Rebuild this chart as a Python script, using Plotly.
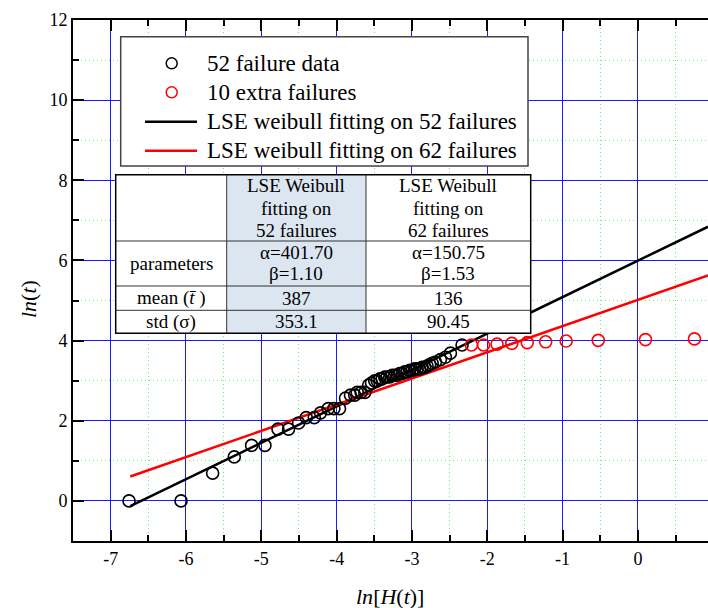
import math
import plotly.graph_objects as go

# ---- data: ln of cumulative hazard (x) vs ln of failure time (y) ----
base_lnH = [-6.756, -6.066, -5.646, -5.359, -5.129, -4.952, -4.779, -4.638, -4.505, -4.404,
            -4.297, -4.214, -4.112, -4.037, -3.962, -3.882, -3.816, -3.760, -3.727, -3.675,
            -3.626, -3.575, -3.537, -3.495, -3.462, -3.425, -3.396, -3.362, -3.330, -3.295,
            -3.263, -3.230, -3.197, -3.163, -3.130, -3.097, -3.064, -3.030, -2.998, -2.965,
            -2.931, -2.898, -2.865, -2.832, -2.799, -2.765, -2.732, -2.688, -2.622, -2.556,
            -2.489, -2.335]
base_lnt = [0.000, 0.000, 0.693, 1.099, 1.386, 1.386, 1.792, 1.792, 1.946, 2.079,
            2.079, 2.197, 2.303, 2.303, 2.303, 2.565, 2.639, 2.639, 2.708, 2.708,
            2.708, 2.890, 2.944, 2.996, 2.996, 3.045, 3.045, 3.091, 3.091, 3.091,
            3.135, 3.135, 3.135, 3.178, 3.178, 3.219, 3.219, 3.258, 3.258, 3.296,
            3.296, 3.296, 3.332, 3.332, 3.367, 3.401, 3.434, 3.466, 3.526, 3.584,
            3.689, 3.892]

extra_lnH = [-2.21, -2.05, -1.87, -1.675, -1.47, -1.225, -0.953, -0.527, 0.10, 0.75]
extra_lnt = [3.892, 3.892, 3.912, 3.932, 3.951, 3.970, 3.989, 4.007, 4.025, 4.043]

# LSE Weibull parameters (scale alpha, shape beta)
alpha_52, beta_52 = 401.70, 1.10
alpha_62, beta_62 = 150.75, 1.53
fit_lnH = [-6.74, 0.93]

x_tick_vals = [-7, -6, -5, -4, -3, -2, -1, 0]
x_tick_text = ["-7", "-6", "-5", "-4", "-3", "-2", "-1", "0"]
y_tick_vals = [0, 2, 4, 6, 8, 10, 12]
y_tick_text = ["0", "2", "4", "6", "8", "10", "12"]

legend_labels = ["52 failure data", "10 extra failures",
                 "LSE weibull fitting on 52 failures", "LSE weibull fitting on 62 failures"]

table_header = [["LSE Weibull", "fitting on", "52 failures"],
                ["LSE Weibull", "fitting on", "62 failures"]]
table_rows = ["parameters", "mean (<i>t\u0304</i> )", "std (\u03c3)"]
table_params = [["\u03b1=401.70", "\u03b2=1.10"], ["\u03b1=150.75", "\u03b2=1.53"]]
table_mean = ["387", "136"]
table_std = ["353.1", "90.45"]

# ---- geometry helpers (pixel -> paper) ----
W, H = 708, 608
ML, MR, MT, MB = 73, 0, 20, 67
PW, PH = W - ML - MR, H - MT - MB


def px(x):
    return (x - ML) / PW


def py(y):
    return (H - MB - y) / PH


FONT = "Liberation Serif, Times New Roman, serif"
BLACK = "#000000"
RED = "#ff0000"


def fit_line(alpha, beta):
    return [math.log(alpha) + v / beta for v in fit_lnH]


fig = go.Figure()
fig.add_trace(go.Scatter(x=fit_lnH, y=fit_line(alpha_52, beta_52), mode="lines",
                         line=dict(color=BLACK, width=2.5), showlegend=False))
fig.add_trace(go.Scatter(x=fit_lnH, y=fit_line(alpha_62, beta_62), mode="lines",
                         line=dict(color=RED, width=2.5), showlegend=False))
fig.add_trace(go.Scatter(x=base_lnH, y=base_lnt, mode="markers",
                         marker=dict(symbol="circle-open", size=12, color=BLACK,
                                     line=dict(width=1.6, color=BLACK)),
                         showlegend=False))
fig.add_trace(go.Scatter(x=extra_lnH, y=extra_lnt, mode="markers",
                         marker=dict(symbol="circle-open", size=12, color=RED,
                                     line=dict(width=1.6, color=RED)),
                         showlegend=False))

shapes = []
annotations = []

# ---- legend box ----
lg_x0, lg_x1, lg_y0, lg_y1 = 120.7, 528, 36.7, 166
shapes.append(dict(type="rect", xref="paper", yref="paper", layer="above",
                   x0=px(lg_x0), x1=px(lg_x1), y0=py(lg_y1), y1=py(lg_y0),
                   fillcolor="white", line=dict(color="#444444", width=1.5)))
rows_y = [63.3, 92.3, 121.7, 150.7]
for i, (lab, ry) in enumerate(zip(legend_labels, rows_y)):
    col = BLACK if i in (0, 2) else RED
    if i < 2:
        shapes.append(dict(type="circle", xref="paper", yref="paper", layer="above",
                           xsizemode="pixel", ysizemode="pixel",
                           xanchor=px(171.7), yanchor=py(ry),
                           x0=-5.5, x1=5.5, y0=-5.5, y1=5.5,
                           line=dict(color=col, width=1.5)))
    else:
        shapes.append(dict(type="line", xref="paper", yref="paper", layer="above",
                           x0=px(145), x1=px(197), y0=py(ry), y1=py(ry),
                           line=dict(color=col, width=2.5)))
    annotations.append(dict(xref="paper", yref="paper", x=px(205), y=py(ry),
                            xanchor="left", yanchor="middle", showarrow=False,
                            text=lab, font=dict(family=FONT, size=23, color=BLACK)))

# ---- parameter table ----
tb_l, tb_r, tb_t, tb_b = 115.7, 530.7, 174.7, 333.3
col_x = [tb_l, 226.7, 366.0, tb_r]
row_y = [tb_t, 241.0, 286.0, 310.3, tb_b]
shapes.append(dict(type="rect", xref="paper", yref="paper", layer="above",
                   x0=px(tb_l), x1=px(tb_r), y0=py(tb_b), y1=py(tb_t),
                   fillcolor="white", line=dict(width=0)))
shapes.append(dict(type="rect", xref="paper", yref="paper", layer="above",
                   x0=px(col_x[1]), x1=px(col_x[2]), y0=py(tb_b), y1=py(tb_t),
                   fillcolor="rgb(220,230,241)", line=dict(width=0)))
for cx in col_x[1:3]:
    shapes.append(dict(type="line", xref="paper", yref="paper", layer="above",
                       x0=px(cx), x1=px(cx), y0=py(tb_b), y1=py(tb_t),
                       line=dict(color="#333333", width=1)))
for ry in row_y[1:4]:
    shapes.append(dict(type="line", xref="paper", yref="paper", layer="above",
                       x0=px(tb_l), x1=px(tb_r), y0=py(ry), y1=py(ry),
                       line=dict(color="#333333", width=1)))
shapes.append(dict(type="rect", xref="paper", yref="paper", layer="above",
                   x0=px(tb_l), x1=px(tb_r), y0=py(tb_b), y1=py(tb_t),
                   line=dict(color=BLACK, width=1.5)))

col_c = [(col_x[i] + col_x[i + 1]) / 2 for i in range(3)]
tfont = dict(family=FONT, size=19, color=BLACK)


def cell_text(cx, cy, txt):
    annotations.append(dict(xref="paper", yref="paper", x=px(cx), y=py(cy),
                            xanchor="center", yanchor="middle", showarrow=False,
                            text=txt, font=tfont))


for j, lines in enumerate(table_header):
    for k, line in enumerate(lines):
        cell_text(col_c[j + 1], 186 + 22 * k, line)
for j, lines in enumerate(table_params):
    cell_text(col_c[j + 1], 252, lines[0])
    cell_text(col_c[j + 1], 273.5, lines[1])
row_mid = [(row_y[i] + row_y[i + 1]) / 2 for i in range(1, 4)]
for lab, cy in zip(table_rows, row_mid):
    cell_text(col_c[0], cy, lab)
for j in range(2):
    cell_text(col_c[j + 1], row_mid[1], table_mean[j])
    cell_text(col_c[j + 1], row_mid[2], table_std[j])

# ---- axis titles ----
annotations.append(dict(xref="paper", yref="paper", x=px(28), y=py(299),
                        xanchor="center", yanchor="middle", showarrow=False,
                        textangle=-90, text="<i>ln</i>(<i>t</i>)",
                        font=dict(family=FONT, size=22, color=BLACK)))
annotations.append(dict(xref="paper", yref="paper", x=px(390), y=py(596),
                        xanchor="center", yanchor="middle", showarrow=False,
                        text="<i>ln</i>[<i>H</i>(<i>t</i>)]",
                        font=dict(family=FONT, size=22, color=BLACK)))

GRID_MAJOR = "#1a1aff"
GRID_MINOR = "#66ee66"
MINOR_DASH = "1px,3px"

fig.update_layout(
    width=W, height=H,
    margin=dict(l=ML, r=MR, t=MT, b=MB, pad=0),
    paper_bgcolor="white", plot_bgcolor="white",
    font=dict(family=FONT, size=18, color=BLACK),
    showlegend=False,
    shapes=shapes, annotations=annotations,
    xaxis=dict(range=[-7.5, 0.93], tickmode="array", tickvals=x_tick_vals,
               ticktext=x_tick_text, ticks="inside", ticklen=11, tickwidth=2,
               tickcolor=BLACK, showline=True, linecolor=BLACK, linewidth=2,
               mirror="ticks", showgrid=True, gridcolor=GRID_MAJOR, gridwidth=1,
               zeroline=False, tickfont=dict(family=FONT, size=18, color=BLACK),
               minor=dict(tickmode="linear", tick0=0, dtick=0.5, ticks="inside",
                          ticklen=6, tickwidth=1.5, tickcolor=BLACK, showgrid=True,
                          gridcolor=GRID_MINOR, gridwidth=1, griddash=MINOR_DASH)),
    yaxis=dict(range=[-1, 12], tickmode="array", tickvals=y_tick_vals,
               ticktext=y_tick_text, ticks="inside", ticklen=11, tickwidth=2,
               tickcolor=BLACK, showline=True, linecolor=BLACK, linewidth=2,
               mirror=False, showgrid=True, gridcolor=GRID_MAJOR, gridwidth=1,
               zeroline=False, tickfont=dict(family=FONT, size=18, color=BLACK),
               minor=dict(tickmode="linear", tick0=0, dtick=1, ticks="inside",
                          ticklen=6, tickwidth=1.5, tickcolor=BLACK, showgrid=True,
                          gridcolor=GRID_MINOR, gridwidth=1, griddash=MINOR_DASH)),
)

fig.write_html("out.html")
